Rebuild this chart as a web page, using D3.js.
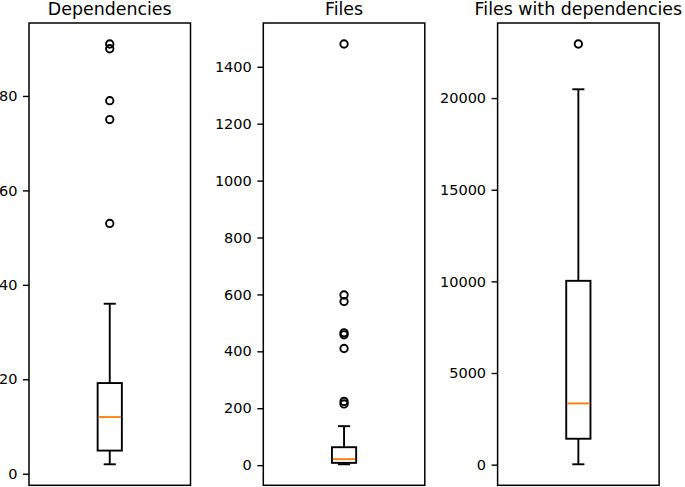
<!DOCTYPE html>
<html>
<head>
<meta charset="utf-8">
<script src="https://cdn.jsdelivr.net/npm/d3@7"></script>
<style>
  html, body { margin: 0; padding: 0; background: #fff; }
  svg { display: block; font-family: "DejaVu Sans", sans-serif; }
</style>
</head>
<body>
<svg id="chart" width="685" height="487"></svg>
<script>
// ---- data ----
const titles = ["Dependencies", "Files", "Files with dependencies"];
const whiskerLow = [2, 3, 20];
const q1 = [4.9, 8, 1414];
const medians = [12, 21, 3340];
const q3 = [19.2, 63, 10030];
const whiskerHigh = [36, 137, 20480];
const fliers = [
  [53, 75, 79, 90, 91],
  [215, 224, 410, 458, 465, 575, 598, 1480],
  [22950]
];
const yTicks = [
  [0, 20, 40, 60, 80],
  [0, 200, 400, 600, 800, 1000, 1200, 1400],
  [0, 5000, 10000, 15000, 20000]
];

// ---- layout ----
const panelTop = 23, panelBottom = 485.3;
const panelLeft0 = 29, panelStep = 234.3, panelWidth = 161.5;
const boxWidth = 0.15;   // matplotlib default for a single box (x-units)
const capWidth = boxWidth / 2;

const svg = d3.select("#chart");

titles.forEach((title, i) => {
  const left = panelLeft0 + i * panelStep;
  const g = svg.append("g");

  const lo = Math.min(whiskerLow[i], ...fliers[i]);
  const hi = Math.max(whiskerHigh[i], ...fliers[i]);
  const pad = (hi - lo) * 0.05;

  const x = d3.scaleLinear().domain([0.5, 1.5]).range([left, left + panelWidth]);
  const y = d3.scaleLinear().domain([lo - pad, hi + pad]).range([panelBottom, panelTop]);

  // y axis
  const yAxis = d3.axisLeft(y).tickValues(yTicks[i]).tickFormat(d3.format("d"))
    .tickSize(6).tickPadding(5.5);
  const ya = g.append("g").attr("transform", `translate(${left},0)`).call(yAxis);
  ya.select(".domain").remove();
  ya.selectAll(".tick line").attr("stroke", "#000").attr("stroke-width", 1.4);
  ya.selectAll(".tick text").attr("fill", "#000").style("font-size", "14.5px")
    .style("font-family", "'DejaVu Sans', sans-serif");

  // box
  const cx = x(1);
  const bx0 = x(1 - boxWidth / 2), bx1 = x(1 + boxWidth / 2);
  const cx0 = x(1 - capWidth / 2), cx1 = x(1 + capWidth / 2);
  const lineStyle = sel => sel.attr("stroke", "#000").attr("stroke-width", 1.9).attr("fill", "none");

  // whiskers
  g.append("line").attr("x1", cx).attr("x2", cx).attr("y1", y(q1[i])).attr("y2", y(whiskerLow[i])).call(lineStyle);
  g.append("line").attr("x1", cx).attr("x2", cx).attr("y1", y(q3[i])).attr("y2", y(whiskerHigh[i])).call(lineStyle);
  // caps
  g.append("line").attr("x1", cx0).attr("x2", cx1).attr("y1", y(whiskerLow[i])).attr("y2", y(whiskerLow[i])).call(lineStyle);
  g.append("line").attr("x1", cx0).attr("x2", cx1).attr("y1", y(whiskerHigh[i])).attr("y2", y(whiskerHigh[i])).call(lineStyle);
  // box rect
  g.append("rect").attr("x", bx0).attr("y", y(q3[i]))
    .attr("width", bx1 - bx0).attr("height", y(q1[i]) - y(q3[i])).call(lineStyle);
  // median
  g.append("line").attr("x1", bx0 + 1).attr("x2", bx1 - 1).attr("y1", y(medians[i])).attr("y2", y(medians[i]))
    .attr("stroke", "#ff7f0e").attr("stroke-width", 1.9);

  // fliers
  g.selectAll("circle.flier").data(fliers[i]).enter().append("circle")
    .attr("class", "flier")
    .attr("cx", cx).attr("cy", d => y(d)).attr("r", 3.7)
    .attr("fill", "none").attr("stroke", "#000").attr("stroke-width", 1.9);

  // frame (spines)
  g.append("rect").attr("x", left).attr("y", panelTop)
    .attr("width", panelWidth).attr("height", panelBottom - panelTop)
    .attr("fill", "none").attr("stroke", "#000").attr("stroke-width", 1.5);

  // title
  g.append("text").attr("x", left + panelWidth / 2).attr("y", 15)
    .attr("text-anchor", "middle").attr("fill", "#000")
    .style("font-size", "17.4px").text(title);
});
</script>
</body>
</html>
